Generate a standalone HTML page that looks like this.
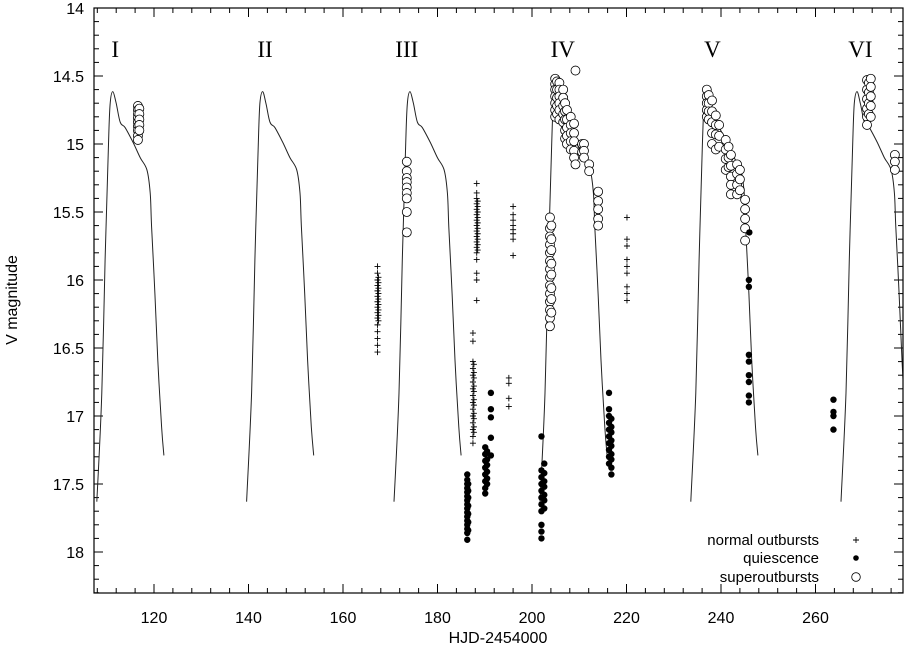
<!DOCTYPE html>
<html><head><meta charset="utf-8"><style>
body{margin:0;background:#fff;}
svg{display:block;font-family:"Liberation Sans",sans-serif;}
</style></head><body>
<svg id="chart" width="906" height="647" viewBox="0 0 906 647" xmlns="http://www.w3.org/2000/svg"></svg>
<script>
const xTicks=[120,140,160,180,200,220,240,260];
const yTicks=[14,14.5,15,15.5,16,16.5,17,17.5,18];
const yTickLabels=["14","14.5","15","15.5","16","16.5","17","17.5","18"];
const cycleStarts=[107.9,139.6,170.8,201.7,233.6,265.4];
const cycleLabels=["I","II","III","IV","V","VI"];
const cycleLabelDays=[111.8,143.5,173.5,206.5,238.2,269.5];
const tmplDt=[0,1.06,1.76,2.47,2.82,3.39,4.09,4.94,6.0,7.69,9.17,10.6,11.3,11.6,12.3,12.9,13.7,14.2];
const tmplMag=[17.63,16.83,15.85,15.0,14.70,14.615,14.70,14.84,14.88,14.99,15.10,15.19,15.36,15.61,16.10,16.59,17.08,17.29];
// groups: [day, [mags]]
const normalGroups=[
[167.3,[15.9,15.95,16.0,16.04,16.08,16.12,16.16,16.2,16.24,16.28,16.33,16.38,16.43,16.48,16.53]],
[167.5,[15.98,16.02,16.06,16.1,16.14,16.18,16.22,16.26,16.3]],
[188.3,[15.29,15.36,15.4,15.44,15.48,15.52,15.56,15.6,15.64,15.68,15.72,15.76,15.8,15.85,15.95,16.0,16.15]],
[188.5,[15.42,15.46,15.5,15.54,15.58,15.62,15.66,15.7,15.74,15.78]],
[187.5,[16.39,16.45,16.6,16.65,16.7,16.75,16.8,16.85,16.9,16.95,17.0,17.05,17.1,17.15,17.2]],
[187.7,[16.62,16.68,16.72,16.78,16.82,16.88,16.92,16.98,17.02,17.08,17.12]],
[196.0,[15.46,15.52,15.56,15.6,15.63,15.66,15.7,15.82]],
[195.1,[16.72,16.76,16.87,16.93]],
[220.1,[15.54,15.7,15.75,15.85,15.9,15.95,16.05,16.1,16.15]]
];
const quietGroups=[
[186.3,[17.43,17.47,17.5,17.53,17.56,17.59,17.62,17.65,17.68,17.71,17.74,17.77,17.8,17.83,17.86,17.91]],
[186.5,[17.5,17.55,17.6,17.66,17.72,17.78,17.84]],
[190.1,[17.23,17.28,17.33,17.38,17.43,17.48,17.53,17.57]],
[190.5,[17.26,17.32,17.36,17.41,17.46,17.5]],
[191.3,[16.83,16.95,17.01,17.16,17.29]],
[202.0,[17.15,17.4,17.45,17.5,17.55,17.6,17.65,17.7,17.8,17.85,17.9]],
[202.6,[17.35,17.42,17.48,17.52,17.58,17.62,17.68]],
[216.3,[16.83,16.95,17.0,17.05,17.1,17.15,17.2,17.25,17.3,17.35]],
[216.8,[17.02,17.08,17.12,17.18,17.22,17.28,17.32,17.38,17.43]],
[245.9,[16.0,16.05,16.55,16.6,16.7,16.75,16.85,16.9]],
[246.0,[15.65]],
[263.8,[16.88,16.97,17.0,17.1]]
];
const superGroups=[
[116.6,[14.72,14.75,14.78,14.81,14.84,14.87,14.9,14.94,14.97]],
[116.9,[14.74,14.78,14.82,14.86,14.9]],
[173.5,[15.13,15.2,15.25,15.28,15.32,15.36,15.4,15.5,15.65]],
[203.8,[15.54,15.62,15.68,15.74,15.8,15.86,15.92,15.98,16.04,16.1,16.16,16.22,16.28,16.34]],
[204.1,[15.6,15.7,15.78,15.88,15.96,16.06,16.14,16.24]],
[204.9,[14.52,14.56,14.6,14.65,14.7,14.75,14.8]],
[205.3,[14.54,14.6,14.66,14.72,14.78]],
[205.8,[14.55,14.6,14.65,14.7,14.75,14.82]],
[206.6,[14.6,14.66,14.72,14.78,14.84]],
[207.0,[14.7,14.76,14.82,14.9,14.96]],
[207.4,[14.75,14.82,14.88,14.94,15.0]],
[208.2,[14.8,14.86,14.92,14.98,15.04]],
[208.9,[14.85,14.92,14.98,15.05,15.1]],
[209.2,[14.46,15.15]],
[210.6,[15.0,15.06]],
[211.0,[15.0,15.05,15.1]],
[212.1,[15.15,15.2]],
[214.0,[15.35,15.42,15.48,15.55,15.6]],
[237.0,[14.6,14.65,14.7,14.75,14.8]],
[237.4,[14.64,14.7,14.76,14.82]],
[238.1,[14.68,14.76,14.84,14.92,15.0]],
[238.9,[14.79,14.86,14.93,15.04]],
[239.6,[14.86,14.94,15.02]],
[241.0,[14.97,15.04,15.11,15.19]],
[241.6,[15.02,15.1,15.17]],
[242.1,[15.08,15.16,15.24,15.3,15.37]],
[243.4,[15.15,15.22,15.3,15.37]],
[244.0,[15.19,15.26,15.34]],
[245.1,[15.41,15.48,15.55,15.62,15.71]],
[270.9,[14.53,14.6,14.67,14.74,14.8,14.86]],
[271.3,[14.55,14.62,14.7,14.78]],
[271.7,[14.52,14.58,14.65,14.72,14.8]],
[276.8,[15.08,15.13,15.19]]
];
const L=94,R=903,T=8,B=593;
const X=d=>154+(d-120)*94.5/20;
const Y=m=>8+(m-14)*136;
const NS="http://www.w3.org/2000/svg";
const svg=document.getElementById('chart');
function mk(tag,attrs,parent){const e=document.createElementNS(NS,tag);for(const k in attrs)e.setAttribute(k,attrs[k]);(parent||svg).appendChild(e);return e;}
const clip=mk('clipPath',{id:'pc'});mk('rect',{x:L,y:T,width:R-L,height:B-T},clip);
const tg=mk('g',{stroke:'#000','stroke-width':1});


for(let d=108;d<=278;d+=4){const major=(d%20===0);const len=major?9:5;const x=X(d);if(x<L||x>R)continue;
mk('line',{x1:x,y1:B,x2:x,y2:B-len},tg);mk('line',{x1:x,y1:T,x2:x,y2:T+len},tg);}
for(let i=0;i<=43;i++){const m=14+i*0.1;const y=Y(m);if(y>B)break;const major=(i%5===0);const len=major?9:5;
mk('line',{x1:L,y1:y,x2:L+len,y2:y},tg);mk('line',{x1:R,y1:y,x2:R-len,y2:y},tg);}
xTicks.forEach(v=>{const t=mk('text',{x:X(v),y:623,'text-anchor':'middle','font-size':16});t.textContent=v;
});
yTicks.forEach((v,i)=>{const t=mk('text',{x:84,y:Y(v)+6,'text-anchor':'end','font-size':16});t.textContent=yTickLabels[i];
});
const xt=mk('text',{x:498,y:643,'text-anchor':'middle','font-size':16});xt.textContent='HJD-2454000';

const yt=mk('text',{x:0,y:0,'text-anchor':'middle','font-size':16,transform:'translate(17,300) rotate(-90)'});yt.textContent='V magnitude';

function smooth(pts){let d='M'+pts[0][0].toFixed(1)+','+pts[0][1].toFixed(1);
for(let i=0;i<pts.length-1;i++){const p0=pts[i-1]||pts[i],p1=pts[i],p2=pts[i+1],p3=pts[i+2]||p2;
const c1=[p1[0]+(p2[0]-p0[0])/6,p1[1]+(p2[1]-p0[1])/6],c2=[p2[0]-(p3[0]-p1[0])/6,p2[1]-(p3[1]-p1[1])/6];
d+='C'+c1.map(v=>v.toFixed(1)).join(',')+' '+c2.map(v=>v.toFixed(1)).join(',')+' '+p2.map(v=>v.toFixed(1)).join(',');}
return d;}
const cg=mk('g',{'clip-path':'url(#pc)'});
cycleStarts.forEach((s,ci)=>{const pts=tmplDt.map((dt,i)=>[X(s+dt),Y(tmplMag[i])]);
const path=mk('path',{d:smooth(pts),fill:'none',stroke:'#222','stroke-width':1,'stroke-linejoin':'round'},cg);


const t=mk('text',{x:X(cycleLabelDays[ci]),y:57,'text-anchor':'middle','font-size':23,'font-family':'Liberation Serif, serif'});
t.textContent=cycleLabels[ci];

});
const pg=mk('g',{'clip-path':'url(#pc)'});
superGroups.forEach(g=>g[1].forEach(m=>{const c=mk('circle',{cx:X(g[0]),cy:Y(m),r:4.5,fill:'#fff',stroke:'#000','stroke-width':0.8},pg);
}));
quietGroups.forEach(g=>g[1].forEach(m=>{const c=mk('circle',{cx:X(g[0]),cy:Y(m),r:3.2,fill:'#000'},pg);
}));
normalGroups.forEach(g=>g[1].forEach(m=>{const x=X(g[0]),y=Y(m);const p=mk('path',{d:`M${x-3},${y}H${x+3}M${x},${y-3}V${y+3}`,stroke:'#000','stroke-width':0.9},pg);
}));
const fr=mk('rect',{x:L,y:T,width:R-L,height:B-T,fill:'none',stroke:'#000','stroke-width':1.2});

const lg=mk('g',{});

[['normal outbursts',545],['quiescence',563],['superoutbursts',582]].forEach((r,i)=>{const t=mk('text',{x:819,y:r[1],'text-anchor':'end','font-size':15},lg);t.textContent=r[0];
});
mk('path',{d:'M853,540H859M856,537V543',stroke:'#000','stroke-width':0.9},lg);
mk('circle',{cx:856,cy:558,r:2.8,fill:'#000'},lg);
mk('circle',{cx:856,cy:577,r:4.3,fill:'#fff',stroke:'#000','stroke-width':0.8},lg);
</script>
</body></html>
